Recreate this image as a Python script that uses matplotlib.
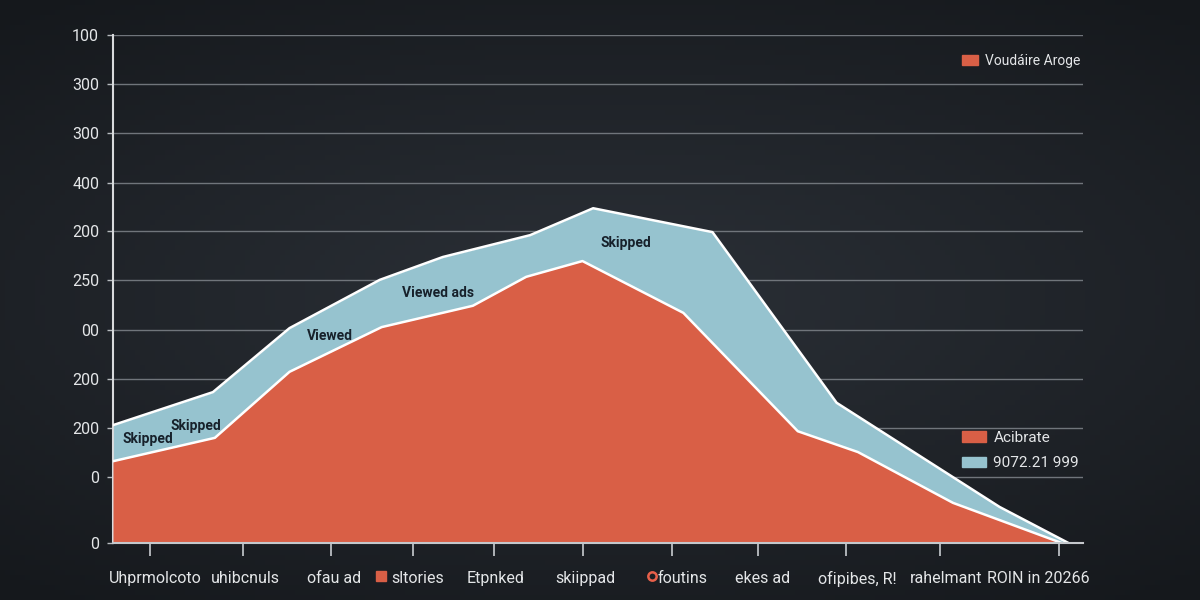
import matplotlib
matplotlib.use("Agg")
import matplotlib.pyplot as plt
import numpy as np
from matplotlib.patches import Patch
from matplotlib.lines import Line2D

plt.rcParams['font.family'] = ['Roboto', 'DejaVu Sans']

# total (top, blue) boundary
total_x = [0, 10.3, 18.2, 27.5, 34.0, 43.0, 49.5, 61.8, 74.6, 91.4, 98.5]
total_y = [23.2, 29.7, 42.3, 51.8, 56.3, 60.6, 65.9, 61.2, 27.6, 7.1, 0]

# lower (red) boundary
viewed_x = [0, 10.5, 18.2, 27.7, 37.1, 42.6, 48.4, 58.8, 70.6, 76.8, 86.6, 97.8]
viewed_y = [16.1, 20.7, 33.7, 42.5, 46.7, 52.4, 55.5, 45.3, 22.0, 17.9, 7.9, 0]

ytick_pos = [0, 13.0, 22.6, 32.3, 41.9, 51.8, 61.4, 70.9, 80.7, 90.4, 100]
ytick_labels = ["0", "0", "200", "200", "00", "250", "200", "400", "300", "300", "100"]

xtick_pos = [3.8, 13.4, 22.5, 30.9, 39.3, 48.5, 57.6, 66.5, 75.6, 85.3, 97.5]
xlabel_pos = [4.4, 13.6, 22.8, 31.4, 39.4, 48.7, 58.7, 67.0, 76.7, 85.9, 95.4]
xlabels = ["Uhprmolcoto", "uhibcnuls", "ofau ad", "sltories", "Etpnked",
           "skiippad", "foutins", "ekes ad", "ofipibes, R!", "rahelmant",
           "ROIN in 20266"]

area_notes = [("Skipped", 3.6, 20.5), ("Skipped", 8.5, 23.0), ("Viewed", 22.4, 40.7),
              ("Viewed ads", 33.5, 49.2), ("Skipped", 52.9, 59.1)]

red = '#d95f46'
blue = '#96c3cf'
text_col = '#e4e6e8'

fig = plt.figure(figsize=(12, 6), dpi=100)

# dark vignette background
bg = fig.add_axes([0, 0, 1, 1], zorder=-10)
gx, gy = np.meshgrid(np.linspace(-1, 1, 240), np.linspace(-1, 1, 120))
dist = np.clip(np.sqrt((gx * 0.9) ** 2 + (gy * 1.1) ** 2), 0, 1.4)
c0 = np.array([0x2c, 0x31, 0x38]) / 255
c1 = np.array([0x15, 0x18, 0x1c]) / 255
t = (dist / 1.4)[..., None]
bg.imshow(c0 * (1 - t) + c1 * t, aspect='auto', extent=[0, 1, 0, 1])
bg.axis('off')

ax = fig.add_axes([113 / 1200, 57 / 600, 970 / 1200, 508 / 600])
ax.patch.set_alpha(0)

ax.fill_between(total_x, total_y, color=blue, lw=0, zorder=2)
ax.plot(total_x, total_y, color='white', lw=1.8, zorder=4)
ax.fill_between(viewed_x, viewed_y, color=red, lw=0, zorder=3)
ax.plot(viewed_x, viewed_y, color='white', lw=1.8, zorder=4)

for label, x, y in area_notes:
    ax.text(x, y, label, ha='center', va='center', fontsize=10,
            fontweight='bold', color='#17212b', zorder=5)

ax.set_xlim(0, 100)
ax.set_ylim(0, 100)

ax.set_yticks(ytick_pos)
ax.set_yticklabels(ytick_labels)
ax.tick_params(axis='y', colors='#b8bcc0', labelcolor=text_col, labelsize=11.5,
               length=4, width=1, pad=6)
for yv in ytick_pos[1:]:
    ax.axhline(yv, color='#70757b', lw=1, zorder=1)

ax.set_xticks(xtick_pos)
ax.set_xticklabels([''] * len(xtick_pos))
ax.set_xticks(xlabel_pos, minor=True)
ax.set_xticklabels(xlabels, minor=True)
ax.tick_params(axis='x', which='major', colors='#c8ccd0', length=9, width=1.2)
ax.tick_params(axis='x', which='minor', length=0, pad=20, labelcolor=text_col,
               labelsize=11.5)

for side in ['top', 'right']:
    ax.spines[side].set_visible(False)
ax.spines['left'].set_color('#d8dadc')
ax.spines['left'].set_linewidth(1.5)
ax.spines['bottom'].set_color('#c4c8cc')
ax.spines['bottom'].set_linewidth(1.5)
ax.spines['bottom'].set_zorder(6)

# little markers inside two of the category labels
fig.add_artist(Line2D([381 / 1200], [1 - 576 / 600], marker='s', ms=7, color=red,
                      lw=0, transform=fig.transFigure))
fig.add_artist(Line2D([652 / 1200], [1 - 576 / 600], marker='o', ms=6, mfc='none',
                      mec='#e8604a', mew=1.8, lw=0, transform=fig.transFigure))

leg1 = ax.legend(handles=[Patch(color=red, label='Voudáire Aroge')],
                 loc='upper left', bbox_to_anchor=(962 / 1200, 1 - 54 / 600),
                 bbox_transform=fig.transFigure, frameon=False, fontsize=10,
                 borderpad=0, borderaxespad=0, handlelength=1.15,
                 handleheight=0.8, handletextpad=0.5, labelcolor=text_col)
ax.add_artist(leg1)
ax.legend(handles=[Patch(color=red, label='Acibrate'),
                   Patch(color=blue, label='9072.21 999')],
          loc='upper left', bbox_to_anchor=(962 / 1200, 1 - 431 / 600),
          bbox_transform=fig.transFigure, frameon=False, fontsize=11,
          borderpad=0, borderaxespad=0, handlelength=1.6, handleheight=0.7,
          handletextpad=0.45, labelspacing=0.75, labelcolor=text_col)

fig.savefig('out.png', dpi=100)
